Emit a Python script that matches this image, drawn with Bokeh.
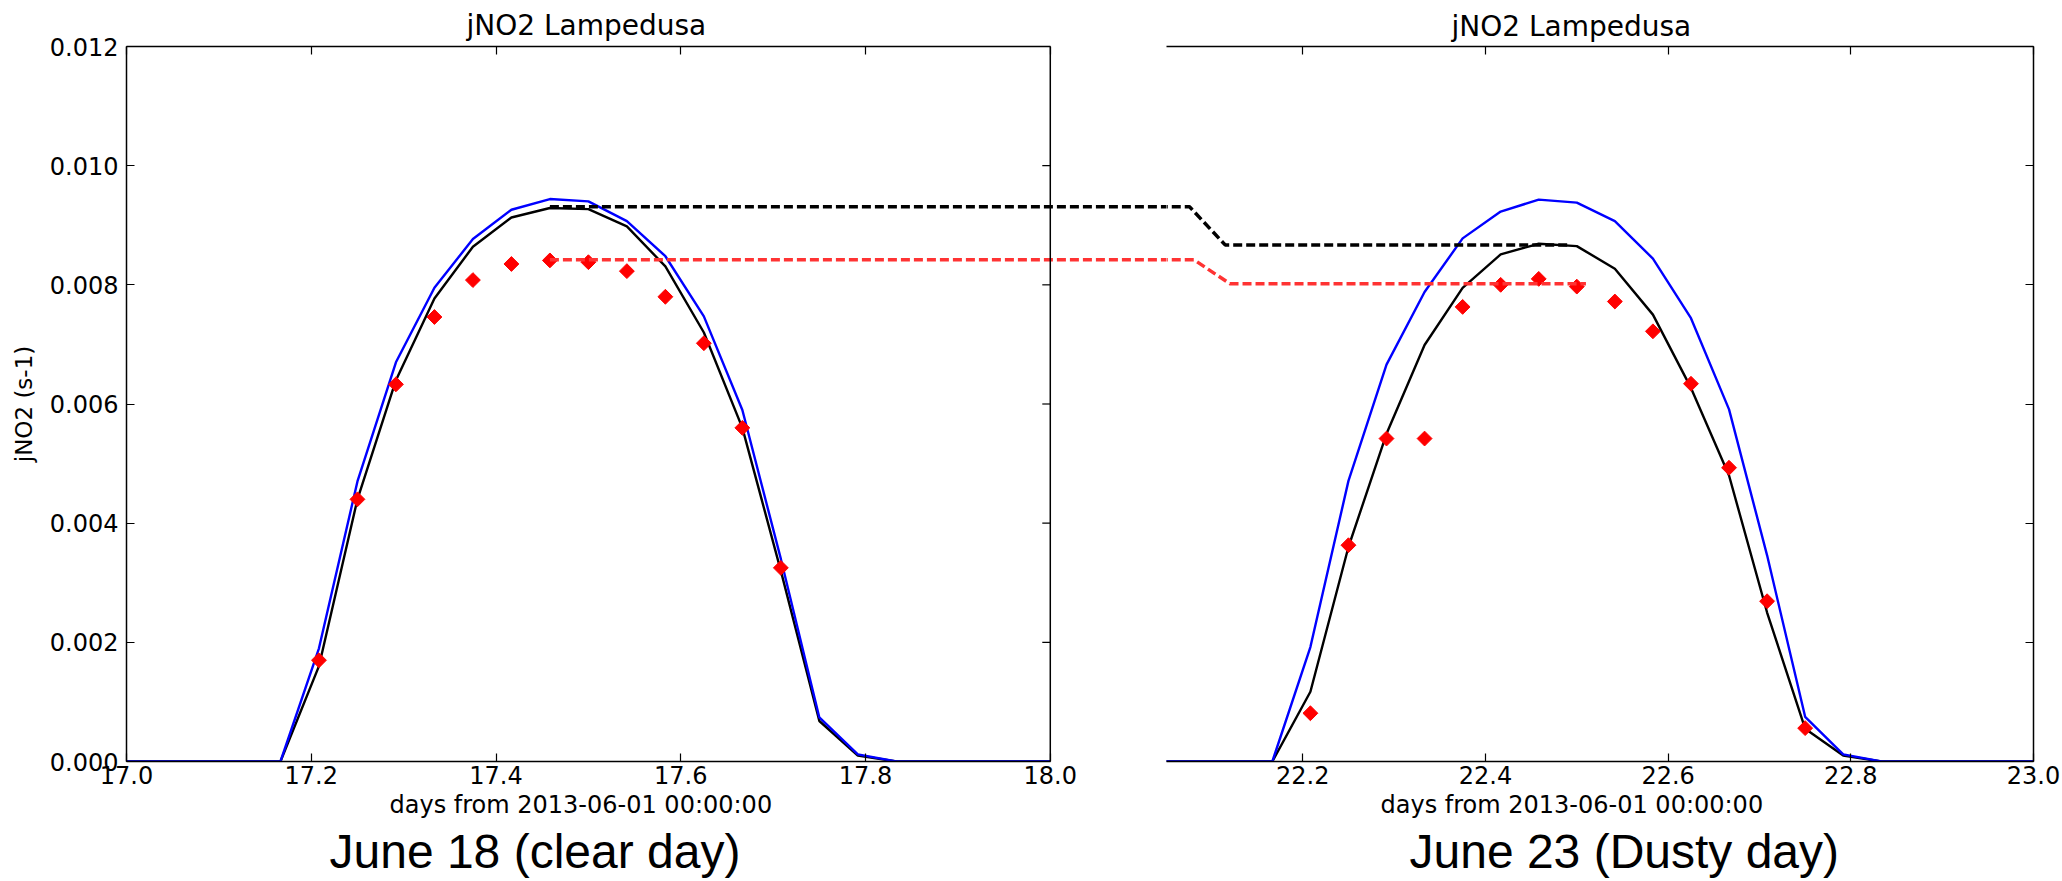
import math

from bokeh.embed import file_html
from bokeh.layouts import row
from bokeh.models import (CustomJSTickFormatter, FixedTicker, LinearAxis,
                          PrintfTickFormatter, Range1d, Span, Title)
from bokeh.plotting import figure
from bokeh.resources import INLINE

# ---------------------------------------------------------------- data
# hour of day (UTC) for the hourly model output, and for the observations
hours = list(range(25))
obs_hours = list(range(5, 18))
obs_hours_dusty = list(range(5, 19))

# June 18 (day 17 from 2013-06-01): clear day
clear_model = [0, 0, 0, 0, 0, 0.0016, 0.0044, 0.0064, 0.00777, 0.00864, 0.00913,
               0.00929, 0.00927, 0.00898, 0.00831, 0.0072, 0.0056, 0.0032, 0.00068,
               0.0001, 0, 0, 0, 0, 0]
clear_clearsky = [0, 0, 0, 0, 0, 0.0019, 0.0047, 0.0067, 0.00795, 0.00877, 0.00926,
                  0.00944, 0.0094, 0.00907, 0.00848, 0.00747, 0.0059, 0.0034, 0.00074,
                  0.00012, 0, 0, 0, 0, 0]
clear_obs = [0.0017, 0.0044, 0.00633, 0.00746, 0.00808, 0.00835, 0.00841, 0.00838,
             0.00823, 0.0078, 0.00702, 0.0056, 0.00325]

# June 23 (day 22 from 2013-06-01): dusty day
dusty_model = [0, 0, 0, 0, 0, 0.00117, 0.0036, 0.0055, 0.00699, 0.00795, 0.00851,
               0.00869, 0.00865, 0.00827, 0.0075, 0.00627, 0.0048, 0.0025, 0.00055,
               0.0001, 0, 0, 0, 0, 0]
dusty_clearsky = [0, 0, 0, 0, 0, 0.00192, 0.00471, 0.00666, 0.00788, 0.00878, 0.00923,
                  0.00943, 0.00938, 0.00907, 0.00844, 0.00744, 0.00591, 0.00346, 0.00075,
                  0.00012, 0, 0, 0, 0, 0]
dusty_obs = [0.00081, 0.00363, 0.00542, 0.00542, 0.00763, 0.008, 0.0081, 0.00797,
             0.00772, 0.00722, 0.00634, 0.00493, 0.00269, 0.00056]

# noon peak levels carried from one day to the other (model, observed)
peak_model = [0.00931, 0.00867]
peak_obs = [0.00842, 0.00802]

y_ticks = [0.0, 0.002, 0.004, 0.006, 0.008, 0.010, 0.012]
x_ticks_clear = [17.0, 17.2, 17.4, 17.6, 17.8, 18.0]
x_ticks_dusty = [22.2, 22.4, 22.6, 22.8, 23.0]

TITLE = "jNO2 Lampedusa"
XLABEL = "days from 2013-06-01 00:00:00"
YLABEL = "jNO2 (s-1)"

FONT = "DejaVu Sans"
CAPTION_FONT = "Liberation Sans"
RED_DASH = "#ff3333"
LINE_W = 2.4
DASH_W = 3.5
DASH = "9 4"


def day_frac(day, hrs):
    return [day + h / 24.0 for h in hrs]


def style_axis(ax, ticks, fmt=None):
    ax.ticker = FixedTicker(ticks=ticks)
    ax.major_tick_in = 8
    ax.major_tick_out = 0
    ax.minor_tick_in = 0
    ax.minor_tick_out = 0
    ax.axis_line_color = "black"
    ax.axis_line_width = 1.5
    ax.major_tick_line_color = "black"
    ax.major_tick_line_width = 1.2
    ax.major_label_text_font = FONT
    ax.major_label_text_color = "black"
    if fmt is None:
        ax.formatter = CustomJSTickFormatter(code="return ''")
        ax.major_label_text_font_size = "1px"
        ax.major_label_standoff = 0
    else:
        ax.formatter = PrintfTickFormatter(format=fmt)
        ax.major_label_text_font_size = "24px"
        ax.major_label_standoff = 4


def add_texts(p, title_off, title_so, xlabel_off, xlabel_so, cap_off, cap_so, caption):
    p.add_layout(Title(text=TITLE, align="left", offset=title_off, standoff=title_so,
                       text_font=FONT, text_font_size="28px", text_font_style="normal",
                       text_color="black"), "above")
    p.add_layout(Title(text=XLABEL, align="left", offset=xlabel_off, standoff=xlabel_so,
                       text_font=FONT, text_font_size="24px", text_font_style="normal",
                       text_color="black"), "below")
    p.add_layout(Title(text=caption, align="left", offset=cap_off, standoff=cap_so,
                       text_font=CAPTION_FONT, text_font_size="48px",
                       text_font_style="normal", text_color="black"), "below")


def draw_series(p, day, model, clearsky, obs_h, obs):
    x = day_frac(day, hours)
    p.line(x, model, line_color="black", line_width=LINE_W)
    p.line(x, clearsky, line_color="blue", line_width=LINE_W)
    p.scatter(day_frac(day, obs_h), obs, marker="square", angle=math.pi / 4, size=10.5,
              fill_color="red", line_color="red", line_width=1)


def base_figure(width, x_range, border_left, border_right, border_top, border_bottom):
    p = figure(width=width, height=881, x_range=x_range, y_range=Range1d(0, 0.012),
               output_backend="svg", toolbar_location=None,
               x_axis_location=None, y_axis_location=None,
               min_border_left=border_left, min_border_right=border_right,
               min_border_top=border_top, min_border_bottom=border_bottom)
    p.outline_line_color = None
    p.grid.visible = False
    p.background_fill_color = "white"
    p.border_fill_color = "white"
    return p


# ---------------------------------------------------------------- clear day
p1 = base_figure(1166, Range1d(17.0, 18.1258), 126, 0, 46, 120)

ax_l = LinearAxis(axis_label=YLABEL, axis_label_text_font=FONT,
                  axis_label_text_font_size="23px", axis_label_text_font_style="normal",
                  axis_label_text_color="black", axis_label_standoff=10)
style_axis(ax_l, y_ticks, "%.3f")
ax_l.major_label_standoff = 8
p1.add_layout(ax_l, "left")

ax_b = LinearAxis(bounds=(17.0, 18.0))
style_axis(ax_b, x_ticks_clear, "%.1f")
p1.add_layout(ax_b, "below")

ax_t = LinearAxis(bounds=(17.0, 18.0))
style_axis(ax_t, x_ticks_clear)
p1.add_layout(ax_t, "above")

draw_series(p1, 17, clear_model, clear_clearsky, obs_hours, clear_obs)

# right-hand spine of the clear-day panel with inward ticks
p1.add_layout(Span(location=18.0, dimension="height", line_color="black", line_width=1.5))
p1.ray(x=[18.0] * len(y_ticks), y=y_ticks, length=8, length_units="screen",
       angle=math.pi, line_color="black", line_width=1.2)

# peak levels running across to the dusty day
noon_clear = day_frac(17, [11])[0]
p1.line([noon_clear, 18.3], [peak_model[0]] * 2, line_color="black", line_width=DASH_W,
        line_dash=DASH)
p1.line([noon_clear, 18.3], [peak_obs[0]] * 2, line_color=RED_DASH, line_width=DASH_W,
        line_dash=DASH)

add_texts(p1, 340, 10, 263, 5, 203, 2, "June 18 (clear day)")

# ---------------------------------------------------------------- dusty day
p2 = base_figure(896, Range1d(22.0508, 23.0), 0, 29, 44, 119)

ax_b2 = LinearAxis()
style_axis(ax_b2, x_ticks_dusty, "%.1f")
p2.add_layout(ax_b2, "below")

ax_t2 = LinearAxis()
style_axis(ax_t2, x_ticks_dusty)
p2.add_layout(ax_t2, "above")

ax_r2 = LinearAxis()
style_axis(ax_r2, y_ticks)
p2.add_layout(ax_r2, "right")

draw_series(p2, 22, dusty_model, dusty_clearsky, obs_hours_dusty, dusty_obs)

p2.line([21.9, 22.076, 22.115, 22.49],
        [peak_model[0], peak_model[0], peak_model[1], peak_model[1]],
        line_color="black", line_width=DASH_W, line_dash=DASH)
p2.line([21.9, 22.081, 22.12, 22.51],
        [peak_obs[0], peak_obs[0], peak_obs[1], peak_obs[1]],
        line_color=RED_DASH, line_width=DASH_W, line_dash=DASH)

add_texts(p2, 285, 7, 214, 5, 243, 2, "June 23 (Dusty day)")

layout = row(p1, p2, spacing=0)

with open("out.html", "w") as f:
    f.write(file_html(layout, INLINE))
